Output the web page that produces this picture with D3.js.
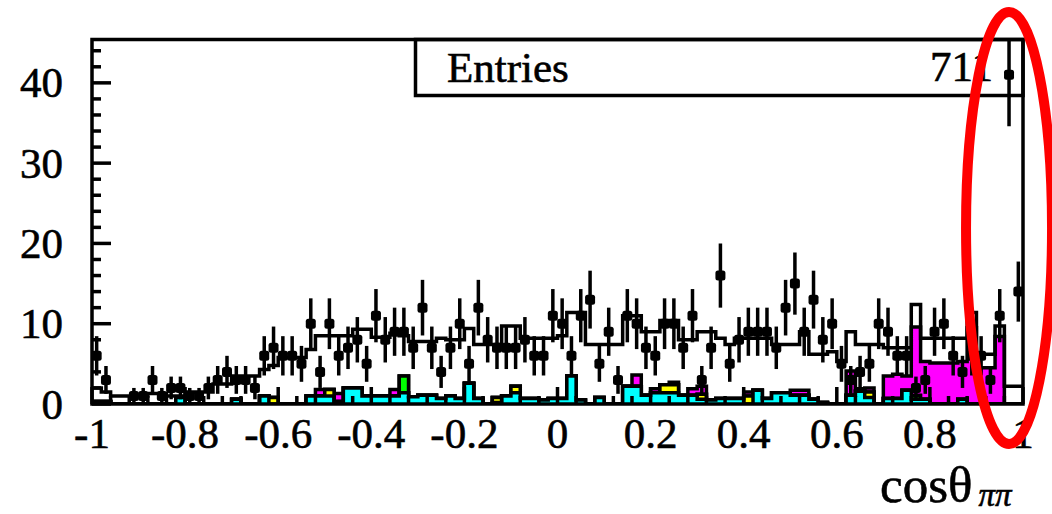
<!DOCTYPE html>
<html>
<head>
<meta charset="utf-8">
<script src="https://cdn.jsdelivr.net/npm/d3@7/dist/d3.min.js"></script>
<style>
  html, body { margin: 0; padding: 0; background: #fff; }
  svg { display: block; }
  text { font-family: "Liberation Serif", "DejaVu Serif", serif; fill: #000; stroke: #000; stroke-width: 0.6px; }
</style>
</head>
<body>
<svg id="chart" width="1052" height="514"></svg>
<script>
// cos(theta_pipi) histogram: 100 bins on [-1, 1]
const nBins = 100;
const xMin = -1, xMax = 1;

// observed events per bin
const dataCounts = [
  6,3,0,0,1,1,3,1,2,2,
  1,1,2,3,4,3,3,2,6,7,
  6,6,5,10,4,10,6,7,8,5,
  11,8,9,9,7,12,7,4,7,10,
  5,12,8,7,7,7,8,6,6,11,
  10,6,11,13,5,9,3,11,10,7,
  6,10,10,7,11,3,7,16,5,8,
  9,9,9,7,12,15,9,13,8,10,
  5,3,4,5,10,9,6,6,2,3,
  9,10,6,4,6,6,3,11,41,14
];

// total expectation, drawn as hollow histogram
const mcTotal = [
  2,1.5,1,1,1,1,1.3,1.3,1,1,
  1.5,1.5,1.5,2.5,2.5,3.5,3.5,3.5,4.3,4.8,
  5.8,5.8,5.8,6.8,8.5,8.5,8.5,8.5,9.3,9.3,
  8.3,8.3,8.8,8.5,7.8,7.8,7.8,8.2,8,8,
  9.4,7.4,7.4,7.4,9.7,9.7,8.2,8.2,8.2,8.2,
  8.5,11.4,11.4,7.4,7.4,7.4,7.4,11,11,9,
  9,10.4,10.4,8,8,9,9,8.2,7.4,8.2,
  8.2,8.2,8.2,7.4,7.4,7.4,9,6.2,6.2,6.5,
  5.3,9,7.4,7.4,7.4,7,7,7,12.4,8.2,
  8.2,8.2,8.2,8.2,11.4,6.2,6.2,9.7,2.2,2.2
];

// stacked background components (bottom to top)
const bkgCyan = [
  0.3,0.3,0,0,0,0,0,0,0,0.8,
  0,0,0,0,0,0.6,0,0,1,0,
  0,0,0,1,1,1,0.3,2,2,1,
  1,1,1,1.4,0.9,1.1,1.1,0.7,1,0.7,
  2.6,0.7,0,0.2,1,1.4,0.7,0.7,0.5,0.7,
  0.7,3.5,0.5,0,0.8,0,0,2.2,2.2,1.1,
  1.4,1.4,1.4,1.1,1.1,0.6,0.5,0.7,0.7,0.7,
  0,1.7,0.7,1.4,1.4,1.1,1.1,0.6,0.2,0,
  0,1.1,1.6,0.8,0,0.7,0.7,1.7,0.6,0.6,
  0,0,0,0.6,0,0,0,0,0,0
];
const bkgYellow = [
  0,0,0,0,0,0,0,0,0,0,
  0,0,0,0,0,0,0,0,0,0.8,
  0,0,0,0,0,0.8,0,0,0,0,
  0,0,0,0,0,0,0,0,0,0,
  0,0,0,0.6,0,0.8,0,0,0,0,
  0,0,0,0,0,0,0,0,0,0,
  0,1,1,0,0,0.6,0,0,0,0,
  1,0,0,0,0,0,0,0,0,0,
  0,0,0,0.7,0,0,0,0,0,0,
  0,0,0,0,0,0,0,0,0,0
];
const bkgGreen = [
  0,0,0,0,0,0,0,0,0,0,
  0,0,0,0,0,0,0,0,0,0,
  0,0,0,0,0,0,0,0,0,0,
  0,0,0,2.1,0,0,0,0,0,0,
  0,0,0,0,0,0,0,0,0,0,
  0,0,0,0,0,0,0,0,0,0,
  0,0,0,0,0,0,0,0,0,0,
  0,0,0,0,0,0,0,0,0,0,
  0,0,0,0,0,0,0,0,0.5,0,
  0,0,0,0,0,0,0,0,0,0
];
const bkgMagenta = [
  0,0,0,0,0,0,0,0,0,0,
  0,0,0,0,0,0,0,0,0,0,
  0,0,0,0,0.8,0,1,0,0,0,
  0,0,0.8,0,0,0,0,0,0,0,
  0,0,0,0,0,0,0,0,0,0,
  0,0,0,0,0,0,0,0,1.4,0,
  0.5,0,0.3,0,0.8,1,0,0,0,0,
  0.5,0,0,0,0,0.6,0.6,0,0,0,
  0,3,0.3,0.5,0,2.8,3,1.8,8.5,4.7,
  5.1,5.1,5.1,4.7,9.5,4.5,4.5,8.4,0,0
];

const components = [
  { name: "cyan", values: bkgCyan, color: "#00ffff" },
  { name: "yellow", values: bkgYellow, color: "#ffff00" },
  { name: "green", values: bkgGreen, color: "#00ff00" },
  { name: "magenta", values: bkgMagenta, color: "#ff00ff" }
];

const yTickValues = [0, 10, 20, 30, 40];
const xTickValues = [-1, -0.8, -0.6, -0.4, -0.2, 0, 0.2, 0.4, 0.6, 0.8, 1];
const xTickLabels = ["-1", "-0.8", "-0.6", "-0.4", "-0.2", "0", "0.2", "0.4", "0.6", "0.8", "1"];
const entriesLabel = "Entries";
const entriesValue = "711";

// frame geometry
const frame = { left: 92, right: 1023, top: 39.5, bottom: 404 };
const yMax = 45.4;
const lw = 3.5;

const svg = d3.select("#chart");
const x = d3.scaleLinear().domain([xMin, xMax]).range([frame.left, frame.right]);
const y = d3.scaleLinear().domain([0, yMax]).range([frame.bottom, frame.top]);
const binW = (xMax - xMin) / nBins;
const edge = i => xMin + i * binW;

svg.append("defs").append("clipPath").attr("id", "frameClip")
  .append("rect")
  .attr("x", frame.left).attr("y", frame.top)
  .attr("width", frame.right - frame.left).attr("height", frame.bottom - frame.top);

const plot = svg.append("g").attr("clip-path", "url(#frameClip)");

// step helpers
function stepPoints(vals) {
  const pts = vals.map((v, i) => ({ e: edge(i), v }));
  pts.push({ e: edge(nBins), v: vals[nBins - 1] });
  return pts;
}
const stepArea = d3.area().curve(d3.curveStepAfter)
  .x(d => x(d.e)).y0(y(0)).y1(d => y(d.v));
const stepLine = d3.line().curve(d3.curveStepAfter)
  .x(d => x(d.e)).y(d => y(d.v));

// cumulative sums; draw the largest first so smaller sums sit on top
const cumulative = [];
let running = new Array(nBins).fill(0);
components.forEach(c => {
  running = running.map((r, i) => r + c.values[i]);
  cumulative.push({ color: c.color, values: running.slice() });
});
for (let k = cumulative.length - 1; k >= 0; k--) {
  const pts = stepPoints(cumulative[k].values);
  const outline = [{ e: edge(0), v: 0 }, ...pts, { e: edge(nBins), v: 0 }];
  plot.append("path")
    .attr("d", stepArea(pts))
    .attr("fill", cumulative[k].color)
    .attr("stroke", "none");
  plot.append("path")
    .attr("d", stepLine(outline))
    .attr("fill", "none").attr("stroke", "#000").attr("stroke-width", lw);
}

// total expectation outline
plot.append("path")
  .attr("d", stepLine(stepPoints(mcTotal)))
  .attr("fill", "none").attr("stroke", "#000").attr("stroke-width", lw);

// statistics box
svg.append("rect")
  .attr("x", 415.5).attr("y", frame.top)
  .attr("width", frame.right - 415.5).attr("height", 95.5 - frame.top)
  .attr("fill", "none").attr("stroke", "#000").attr("stroke-width", lw);
svg.append("text").attr("x", 447).attr("y", 81.5)
  .attr("font-size", 43).text(entriesLabel);
svg.append("text").attr("x", 993).attr("y", 80.5)
  .attr("font-size", 43).attr("text-anchor", "end").text(entriesValue);

// data points with statistical errors
const pts = dataCounts.map((n, i) => ({ xc: edge(i) + binW / 2, n }))
  .filter(d => d.n > 0);
const dataG = plot.append("g");
dataG.selectAll("line.err").data(pts).join("line")
  .attr("class", "err")
  .attr("x1", d => x(d.xc)).attr("x2", d => x(d.xc))
  .attr("y1", d => y(d.n + Math.sqrt(d.n)))
  .attr("y2", d => y(Math.max(0, d.n - Math.sqrt(d.n))))
  .attr("stroke", "#000").attr("stroke-width", lw);
dataG.selectAll("rect.mk").data(pts).join("rect")
  .attr("class", "mk")
  .attr("x", d => x(d.xc) - 5).attr("y", d => y(d.n) - 5)
  .attr("width", 10).attr("height", 10).attr("rx", 2.5)
  .attr("fill", "#000");

// axis ticks (drawn inside the frame)
const axisG = svg.append("g").attr("stroke", "#000");
d3.range(0, yMax + 0.001, 2).forEach(v => {
  const major = v % 10 === 0;
  axisG.append("line")
    .attr("x1", frame.left).attr("x2", frame.left + (major ? 19 : 9))
    .attr("y1", y(v)).attr("y2", y(v)).attr("stroke-width", lw);
});
d3.range(0, 51).map(k => -1 + k * 0.04).forEach((v, k) => {
  const major = k % 5 === 0;
  axisG.append("line")
    .attr("x1", x(v)).attr("x2", x(v))
    .attr("y1", frame.bottom).attr("y2", frame.bottom - (major ? 17 : 8))
    .attr("stroke-width", lw);
});

// frame
svg.append("rect")
  .attr("x", frame.left).attr("y", frame.top)
  .attr("width", frame.right - frame.left).attr("height", frame.bottom - frame.top)
  .attr("fill", "none").attr("stroke", "#000").attr("stroke-width", lw);

// tick labels
svg.append("g").selectAll("text").data(yTickValues).join("text")
  .attr("x", 63).attr("y", d => y(d) + 14.5)
  .attr("text-anchor", "end").attr("font-size", 43)
  .text(d => d);
svg.append("g").selectAll("text").data(xTickValues).join("text")
  .attr("x", d => x(d)).attr("y", 448)
  .attr("text-anchor", "middle").attr("font-size", 43)
  .text((d, i) => xTickLabels[i]);

// axis title
const title = svg.append("text").attr("x", 880).attr("y", 502).attr("font-size", 51);
title.append("tspan").text("cosθ");
title.append("tspan").attr("font-size", 33).attr("font-style", "italic")
  .attr("dx", 6).attr("dy", 4).text("ππ");

// highlight ring around the last bins
svg.append("ellipse")
  .attr("cx", x(0.97)).attr("cy", 228)
  .attr("rx", 43).attr("ry", 216)
  .attr("fill", "none").attr("stroke", "#ff0000").attr("stroke-width", 10);
</script>
</body>
</html>
